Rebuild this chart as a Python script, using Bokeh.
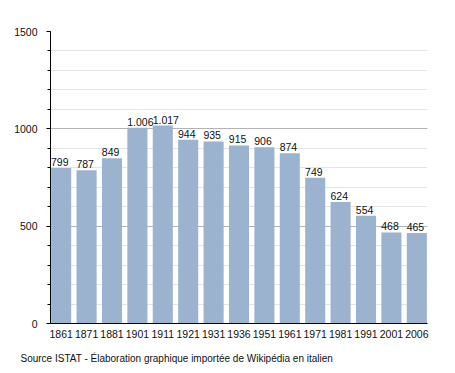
from bokeh.plotting import figure
from bokeh.models import FixedTicker, Range1d, Title, ColumnDataSource
from bokeh.core.properties import value
from bokeh.embed import file_html
from bokeh.resources import INLINE

years = ["1861", "1871", "1881", "1901", "1911", "1921", "1931", "1936",
         "1951", "1961", "1971", "1981", "1991", "2001", "2006"]
population = [799, 787, 849, 1006, 1017, 944, 935, 915, 906, 874, 749, 624, 554, 468, 465]
y_ticks = [0, 500, 1000, 1500]
source_note = "Source ISTAT - Élaboration graphique importée de Wikipédia en italien"

FONT = "Liberation Sans"
FS = "10.5px"


def fmt(v):
    return f"{v:,}".replace(",", ".")


idx = list(range(len(years)))
src = ColumnDataSource(dict(
    x=idx,
    xl=[i - 0.4 for i in idx],
    top=population,
    lab=[fmt(v) for v in population],
))

p = figure(width=447, height=373, output_backend="svg", toolbar_location=None,
           x_range=Range1d(-0.42, 14.42), y_range=Range1d(0, 1500),
           min_border_left=50, min_border_right=20, min_border_top=31,
           min_border_bottom=42)
p.outline_line_color = None
p.background_fill_color = "white"

p.vbar(x="x", top="top", width=0.79, bottom=0, source=src,
       fill_color="#9bb3ce", line_color=None)
p.text(x="xl", y="top", text="lab", source=src, text_align="left",
       text_baseline="bottom", y_offset=-2, text_font=value(FONT),
       text_font_size=FS, text_color="#111111")

# y axis
yt = FixedTicker(ticks=y_ticks, minor_ticks=list(range(0, 1501, 100)))
p.yaxis.ticker = yt
p.yaxis.axis_line_color = "black"
p.yaxis.major_tick_line_color = "black"
p.yaxis.major_tick_out = 4
p.yaxis.major_tick_in = 0
p.yaxis.minor_tick_line_color = "black"
p.yaxis.minor_tick_out = 3
p.yaxis.minor_tick_in = 0
p.yaxis.major_label_text_font = FONT
p.yaxis.major_label_text_font_size = FS
p.yaxis.major_label_text_color = "#111111"
p.yaxis.major_label_standoff = 9

p.ygrid.ticker = yt
p.ygrid.grid_line_color = "#b3b3b3"
p.ygrid.minor_grid_line_color = "#e4e4e4"
p.xgrid.grid_line_color = None

# x axis
p.xaxis.ticker = FixedTicker(ticks=idx)
p.xaxis.major_label_overrides = {i: y for i, y in enumerate(years)}
p.xaxis.axis_line_color = "black"
p.xaxis.major_tick_line_color = None
p.xaxis.minor_tick_line_color = None
p.xaxis.major_label_text_font = FONT
p.xaxis.major_label_text_font_size = FS
p.xaxis.major_label_text_color = "#111111"
p.xaxis.major_label_standoff = 0

t = Title(text=source_note, text_font=FONT, text_font_size="10px",
          text_font_style="normal", text_color="#111111",
          align="left", offset=-30, standoff=20)
p.add_layout(t, "below")

open("out.html", "w").write(file_html(p, INLINE))
